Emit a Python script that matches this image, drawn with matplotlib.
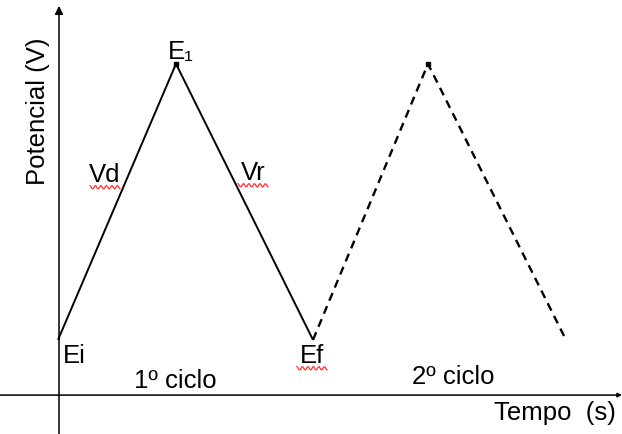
import matplotlib
matplotlib.use('Agg')
import matplotlib.pyplot as plt
import numpy as np

plt.rcParams['font.family'] = ['Liberation Sans', 'DejaVu Sans']

# cycle 1 (solid) and cycle 2 (dashed)
t_cycle1 = [0, 11.8, 25.5]
e_cycle1 = [0.2, 1.2, 0.2]
t_cycle2 = [25.5, 37.0, 50.8]
e_cycle2 = [0.2, 1.2, 0.2]
peaks_t = [11.8, 37.0]
peaks_e = [1.2, 1.2]

fig = plt.figure(figsize=(6.22, 4.35), dpi=100)
ax = fig.add_axes([0, 0, 1, 1])
ax.set_xlim(-5.8, 56.4)
ax.set_ylim(-0.141, 1.435)
ax.axis('off')

# axes with arrows
ax.annotate('', xy=(0.1, 1.41), xytext=(0.1, -0.141),
            arrowprops=dict(arrowstyle='-|>', color='black', lw=1.1,
                            mutation_scale=12, shrinkA=0, shrinkB=0))
ax.annotate('', xy=(56.4, 0.0), xytext=(-5.8, 0.0),
            arrowprops=dict(arrowstyle='-|>', color='black', lw=1.1,
                            mutation_scale=6, shrinkA=0, shrinkB=0))

ax.plot(t_cycle1, e_cycle1, color='black', lw=1.4, solid_capstyle='butt')
ax.plot(t_cycle2, e_cycle2, color='black', lw=1.7, linestyle=(0, (3.5, 2.5)))
ax.plot(peaks_t, peaks_e, 's', color='black', ms=3)

fs = 18.5
ax.text(-2.0, 1.033, 'Potencial (V)', rotation=90, ha='center', va='center', fontsize=fs)
ax.text(12.3, 1.247, 'E\u2081', ha='center', va='center', fontsize=fs)
ax.text(1.6, 0.145, 'Ei', ha='center', va='center', fontsize=fs)
ax.text(11.7, 0.055, '1º ciclo', ha='center', va='center', fontsize=fs)
ax.text(39.5, 0.069, '2º ciclo', ha='center', va='center', fontsize=fs)
ax.text(49.7, -0.061, 'Tempo  (s)', ha='center', va='center', fontsize=fs)

# labels with red spell-check underline
squiggle_labels = [('Vd', 4.7, 0.801), ('Vr', 19.5, 0.808), ('Ef', 25.4, 0.145)]
for txt, x, y in squiggle_labels:
    ax.text(x, y, txt, ha='center', va='center', fontsize=fs)
    xs = np.linspace(x - 1.5, x + 1.5, 40)
    ys = y - 0.048 + 0.006 * np.sin((xs - x) * 2 * np.pi / 0.55)
    ax.plot(xs, ys, color='#ff3030', lw=0.9)

fig.savefig('out.png', dpi=100, facecolor='white')
